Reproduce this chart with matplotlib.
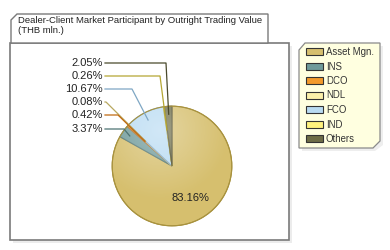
import numpy as np
import matplotlib.pyplot as plt
from matplotlib.patches import Polygon, Rectangle, Circle

plt.rcParams['font.family'] = ['Liberation Sans', 'DejaVu Sans']

#########################################################
# data
#########################################################
title = "Dealer-Client Market Participant by Outright Trading Value\n(THB mln.)"
categories = ["Asset Mgn.", "INS", "DCO", "NDL", "FCO", "IND", "Others"]
shares = [83.16, 3.37, 0.42, 0.08, 10.67, 0.26, 2.05]
colors = ["#d6bf6e", "#6f9a9a", "#f39a2c", "#fbf0a9", "#b9dbf2", "#fff27e", "#6e6d47"]
edges = ["#a8923e", "#4d7373", "#c06a10", "#b8a860", "#7fa7c4", "#b5a733", "#4a492c"]

# outside labels, top to bottom (pixel rows of the text), with elbow x
out_order = ["Others", "IND", "FCO", "NDL", "DCO", "INS"]
out_y = [63, 76, 89, 102, 115, 129]
out_elbow = [166, 160, 132, 106, 118, 124]

W, H = 390, 250
cx, cy, R = 172, 166, 61

fig = plt.figure(figsize=(W / 100, H / 100), dpi=100)

# background in pixel coordinates
bg = fig.add_axes([0, 0, 1, 1])
bg.set_xlim(0, W)
bg.set_ylim(H, 0)
bg.axis("off")

# shadows + frames
bg.add_patch(Rectangle((13, 46), 279, 197, fc="#ececec", ec="none", zorder=0))
bg.add_patch(Rectangle((10, 43), 279, 197, fc="white", ec="#7a7a7a", lw=1.2, zorder=1))
bg.add_patch(Polygon([(11, 20), (17, 14), (268, 14), (268, 43), (11, 43)],
                     fc="white", ec="#7a7a7a", lw=1.0, zorder=1))
bg.text(18, 16, title, fontsize=6.8, va="top", ha="left", color="#222222",
        linespacing=1.2, zorder=2)

# legend box with cut corners
bg.add_patch(Polygon([(302, 46), (383, 46), (383, 145), (375, 151), (302, 151)],
                     fc="#eeeeee", ec="none", zorder=1))
bg.add_patch(Polygon([(305, 43), (380, 43), (380, 141), (373, 148), (299, 148), (299, 50)],
                     fc="#ffffe0", ec="#8a8a8a", lw=0.9, zorder=2))
for i, (name, c) in enumerate(zip(categories, colors)):
    y = 51.5 + i * 14.5
    bg.add_patch(Rectangle((306, y - 3.5), 17, 7, fc=c, ec="#333333", lw=0.8, zorder=3))
    bg.text(326, y + 0.5, name, fontsize=6.9, va="center", ha="left", color="#333333", zorder=3)

# pie
pax = fig.add_axes([(cx - R) / W, 1 - (cy + R) / H, 2 * R / W, 2 * R / H])
wedges, _ = pax.pie(shares, colors=colors, startangle=90, counterclock=False,
                    wedgeprops=dict(linewidth=0.8), radius=1.0)
for w, e in zip(wedges, edges):
    w.set_edgecolor(e)
pax.set_xlim(-1.02, 1.02)
pax.set_ylim(-1.02, 1.02)
pax.set_aspect("equal")
pax.axis("off")

# soft highlight over the pie
yy, xx = np.mgrid[1:-1:200j, -1:1:200j]
d = np.sqrt((xx + 0.2) ** 2 + (yy - 0.6) ** 2)
alpha = np.clip(0.35 - 0.3 * d, 0, 0.35)
img = np.zeros((200, 200, 4))
img[..., :3] = 1.0
img[..., 3] = alpha
im = pax.imshow(img, extent=(-1, 1, -1, 1), origin="upper", zorder=3)
im.set_clip_path(Circle((0, 0), 1.0, transform=pax.transData))
pax.add_patch(Circle((0, 0), 1.0, fc="none", ec="#a8923e", lw=0.8, zorder=4))

# labels on top, pixel coordinates
ov = fig.add_axes([0, 0, 1, 1])
ov.set_xlim(0, W)
ov.set_ylim(H, 0)
ov.axis("off")
ov.patch.set_alpha(0)

cum = np.cumsum([0] + shares)
mid = {}
for name, a, b in zip(categories, cum[:-1], cum[1:]):
    mid[name] = np.deg2rad(90 - 3.6 * (a + b) / 2)

ang = mid["Asset Mgn."]
ov.text(cx + 0.6 * R * np.cos(ang), cy - 0.6 * R * np.sin(ang), "%.2f%%" % shares[0],
        fontsize=8, ha="center", va="center", color="#222222")

for name, y, ex in zip(out_order, out_y, out_elbow):
    i = categories.index(name)
    ang = mid[name]
    r = 0.85 if shares[i] > 1 else 0.6
    px, py = cx + r * R * np.cos(ang), cy - r * R * np.sin(ang)
    ov.plot([105, ex, px], [y, y, py], color=edges[i], lw=0.9)
    ov.text(103, y, "%.2f%%" % shares[i], fontsize=8, ha="right", va="center",
            color="#222222")

fig.savefig("out.png", dpi=100)
